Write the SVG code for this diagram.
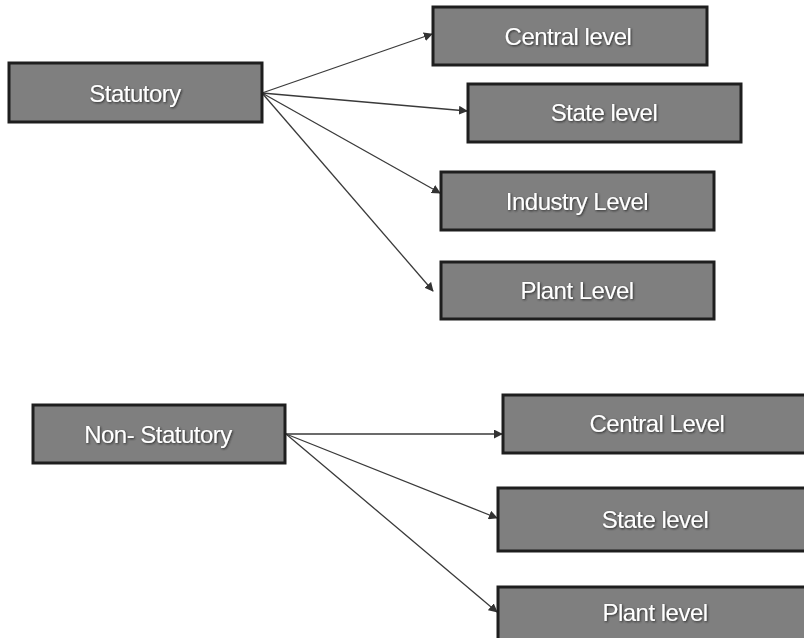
<svg xmlns="http://www.w3.org/2000/svg" width="804" height="638" viewBox="0 0 804 638">
  <defs>
    <marker id="arrow" viewBox="0 0 10 10" refX="9" refY="5" markerWidth="9" markerHeight="9" markerUnits="userSpaceOnUse" orient="auto">
      <path d="M0,0 L10,5 L0,10 z" fill="#333"/>
    </marker>
    <filter id="shadow" x="-10%" y="-30%" width="120%" height="160%">
      <feDropShadow dx="1" dy="1" stdDeviation="0.8" flood-color="#222" flood-opacity="0.9"/>
    </filter>
  </defs>
  <style>
    .box { fill: #7f7f7f; stroke: #1e1e1e; stroke-width: 3; }
    .label { font-family: "Liberation Sans", Arial, sans-serif; font-size: 24px; letter-spacing: -0.5px; fill: #ffffff; text-anchor: middle; dominant-baseline: central; filter: url(#shadow); }
    .edge { stroke: #3a3a3a; stroke-width: 1.3; fill: none; marker-end: url(#arrow); }
  </style>
  <rect width="804" height="638" fill="#ffffff"/>

  <!-- Connectors -->
  <g id="connectors">
    <line class="edge" x1="262" y1="93" x2="432" y2="34"/>
    <line class="edge" x1="262" y1="93" x2="467" y2="111"/>
    <line class="edge" x1="262" y1="93" x2="440" y2="193"/>
    <line class="edge" x1="262" y1="93" x2="433" y2="291"/>
    <line class="edge" x1="286" y1="434" x2="502" y2="434"/>
    <line class="edge" x1="286" y1="434" x2="497" y2="518"/>
    <line class="edge" x1="286" y1="434" x2="497" y2="612"/>
  </g>

  <!-- Statutory branch -->
  <g id="statutory">
    <rect class="box" x="9" y="63" width="253" height="59"/>
    <text class="label" x="135" y="93">Statutory</text>
  </g>
  <g id="central-level">
    <rect class="box" x="433" y="7" width="274" height="58"/>
    <text class="label" x="568" y="36">Central level</text>
  </g>
  <g id="state-level">
    <rect class="box" x="468" y="84" width="273" height="58"/>
    <text class="label" x="604" y="112">State level</text>
  </g>
  <g id="industry-level">
    <rect class="box" x="441" y="172" width="273" height="58"/>
    <text class="label" x="577" y="201">Industry Level</text>
  </g>
  <g id="plant-level">
    <rect class="box" x="441" y="262" width="273" height="57"/>
    <text class="label" x="577" y="290">Plant Level</text>
  </g>

  <!-- Non-statutory branch -->
  <g id="non-statutory">
    <rect class="box" x="33" y="405" width="252" height="58"/>
    <text class="label" x="158" y="434">Non- Statutory</text>
  </g>
  <g id="central-level-ns">
    <rect class="box" x="503" y="395" width="310" height="58"/>
    <text class="label" x="657" y="423">Central Level</text>
  </g>
  <g id="state-level-ns">
    <rect class="box" x="498" y="488" width="315" height="63"/>
    <text class="label" x="655" y="519">State level</text>
  </g>
  <g id="plant-level-ns">
    <rect class="box" x="498" y="587" width="315" height="60"/>
    <text class="label" x="655" y="612">Plant level</text>
  </g>
</svg>
